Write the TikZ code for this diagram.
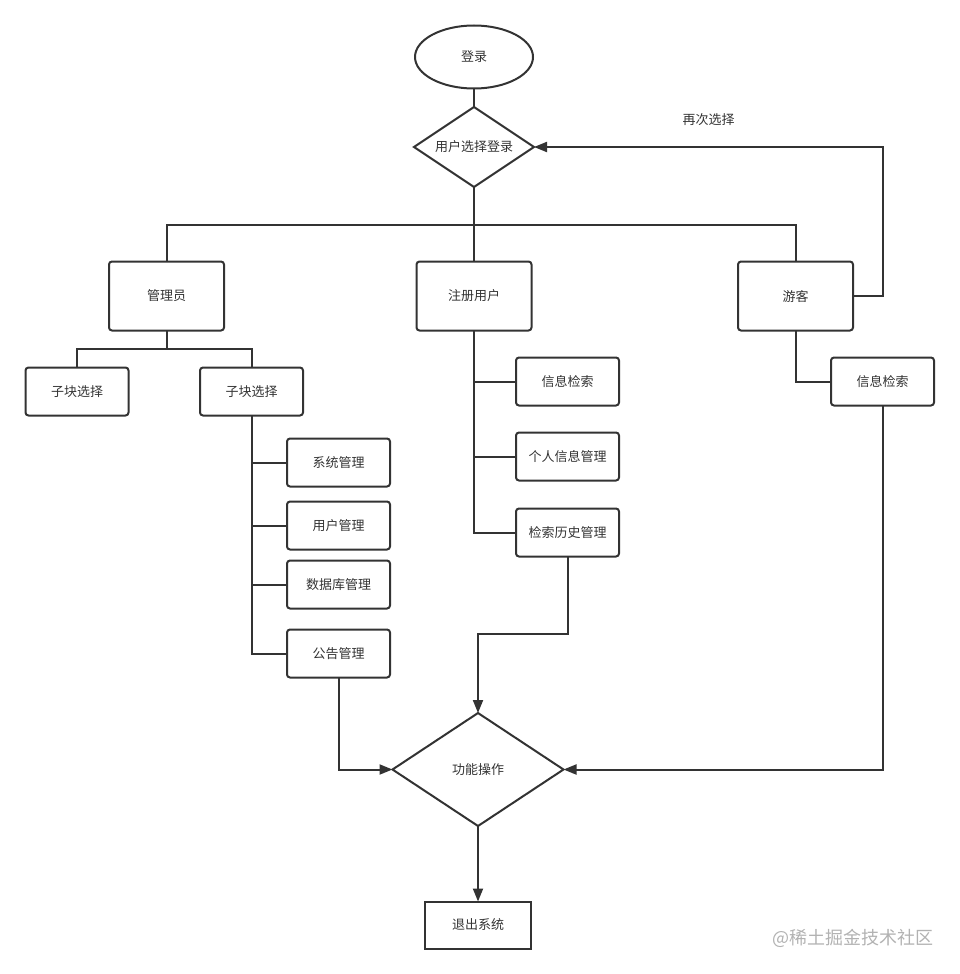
\documentclass[tikz,border=0pt]{standalone}
\usepackage{fontspec}
\setmainfont{Noto Sans CJK SC}
\usetikzlibrary{shapes.geometric,positioning,arrows.meta}
\definecolor{linje}{HTML}{333333}
\begin{document}
\begin{tikzpicture}[x=1pt, y=-1pt, line width=2pt, color=linje, font=\fontsize{13pt}{15pt}\selectfont]

\tikzstyle{oval}=[ellipse, draw, minimum width=118pt, minimum height=63pt, inner sep=0pt, outer sep=0pt]
\tikzstyle{valg}=[diamond, draw, aspect=1.5, inner sep=0pt, outer sep=0pt]
\tikzstyle{rolle}=[rectangle, rounded corners=3pt, draw, minimum width=115pt, minimum height=69pt, outer sep=0pt]
\tikzstyle{modul}=[rectangle, rounded corners=3pt, draw, minimum width=103pt, minimum height=48pt, outer sep=0pt]
\tikzstyle{slutt}=[rectangle, draw, minimum width=106pt, minimum height=47pt, outer sep=0pt]
\tikzstyle{pil}=[-{Triangle[length=13pt, width=10pt]}]
\tikzstyle{merke}=[text=black!30, font=\fontsize{18pt}{20pt}\selectfont]

\useasboundingbox (0,0) rectangle (959,974);

%\draw[help lines] (0,0) grid[step=50] (959,974);

\node[oval] (login) at (474,57) {登录};
\node[valg, minimum width=120pt, minimum height=80pt, below=18.5pt of login] (choose) {用户选择登录};

\node[rolle, below=74.5pt of choose] (reg) {注册用户};
\node[rolle, left=192.5pt of reg] (admin) {管理员};
\node[rolle, right=206.5pt of reg] (guest) {游客};

\node[modul, below=37pt of admin, xshift=-89.5pt] (subleft) {子块选择};
\node[modul, below=37pt of admin, xshift=85pt] (subright) {子块选择};
\node[modul, below=23pt of subright, xshift=87pt] (sysm) {系统管理};
\node[modul, below=15pt of sysm] (userm) {用户管理};
\node[modul, below=11pt of userm] (dbm) {数据库管理};
\node[modul, below=21pt of dbm] (notice) {公告管理};

\node[modul, below=27pt of reg, xshift=93.5pt] (search) {信息检索};
\node[modul, below=27pt of search] (profile) {个人信息管理};
\node[modul, below=28pt of profile] (history) {检索历史管理};

\node[modul, below=27pt of guest, xshift=87pt] (gsearch) {信息检索};

\node[valg, minimum width=171pt, minimum height=113pt, below=156.5pt of history, xshift=-89.5pt] (func) {功能操作};
\node[slutt, below=75.5pt of func] (exit) {退出系统};

\node[merke] (wm) at (853,938.5) {@稀土掘金技术社区};

\draw (login) -- (choose);
\draw (choose.south) -- (reg.north);
\draw (choose.south) -- ++(0,38) coordinate (split);
\draw (admin.north) |- (split) -| (guest.north);
\draw[pil] (guest.east) -- ++(30,0) |- (choose.east)
  node[pos=0.75, above=20pt, inner sep=0pt] (again) {再次选择};

\draw (admin.south) -- ++(0,18) coordinate (asplit);
\draw (subleft.north) |- (asplit) -| (subright.north);
\foreach \n in {sysm,userm,dbm,notice}
  \draw (subright.south) |- (\n.west);

\foreach \n in {search,profile,history}
  \draw (reg.south) |- (\n.west);
\draw (guest.south) |- (gsearch.west);

\draw[pil] (notice.south) |- (func.west);
\draw[pil] (history.south) -- ++(0,77) -| (func.north);
\draw[pil] (gsearch.south) |- (func.east);
\draw[pil] (func.south) -- (exit.north);

\end{tikzpicture}
\end{document}
